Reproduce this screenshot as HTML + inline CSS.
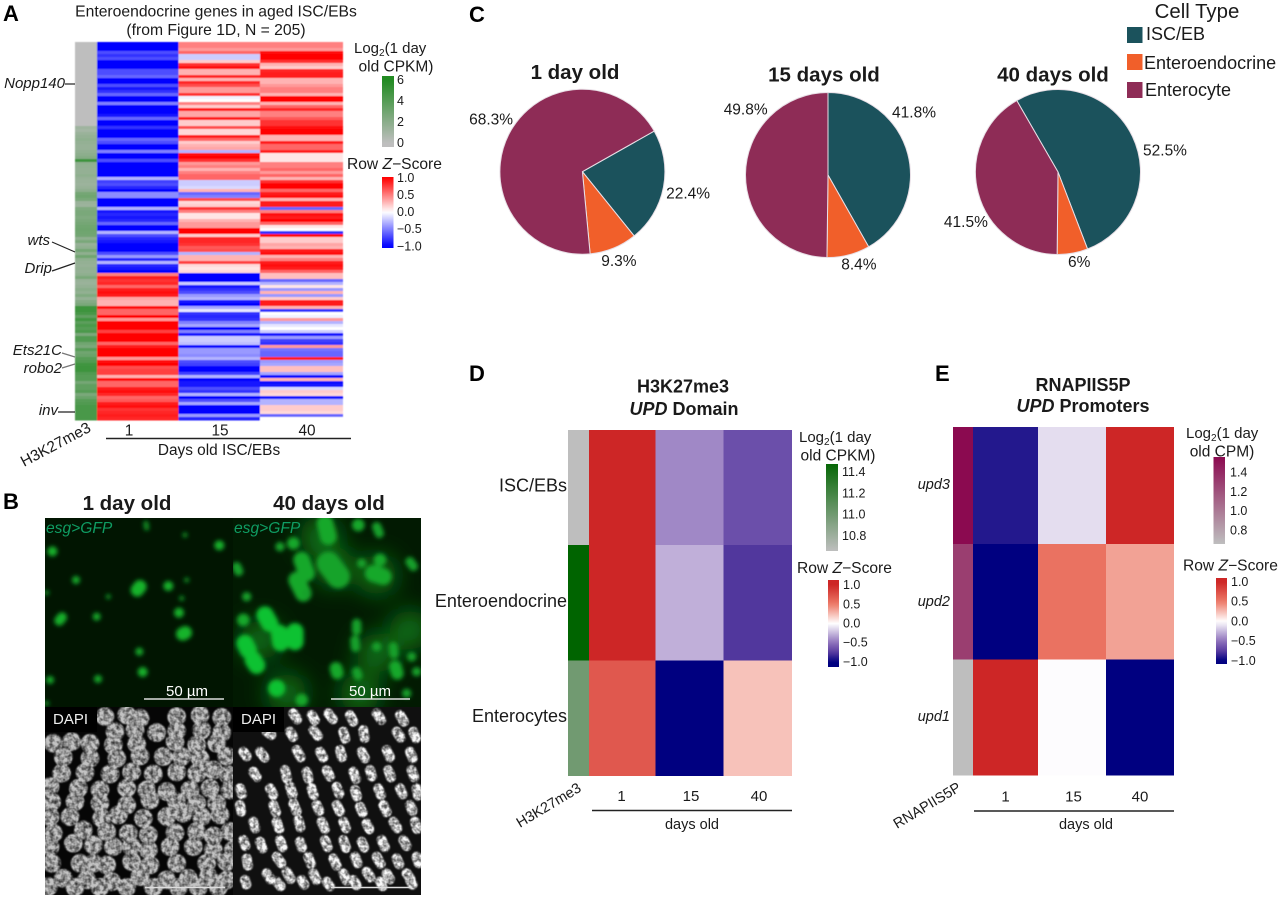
<!DOCTYPE html>
<html lang="en">
<head>
<meta charset="utf-8">
<title>Enteroendocrine genes figure</title>
<style>
html,body{margin:0;padding:0;background:#fff;width:1280px;height:897px;overflow:hidden;}
svg{display:block;font-family:"Liberation Sans",sans-serif;fill:#1a1a1a;}
.pl{font-size:22px;font-weight:700;fill:#000;}
.i{font-style:italic;}
.b{font-weight:700;}
</style>
</head>
<body>
<svg id="fig" xmlns="http://www.w3.org/2000/svg" width="1280" height="897" viewBox="0 0 1280 897">
<defs>
<filter id="b1" filterUnits="userSpaceOnUse" x="0" y="0" width="1400" height="800"><feGaussianBlur stdDeviation="6"/></filter>
<filter id="b2" filterUnits="userSpaceOnUse" x="0" y="-200" width="1600" height="1200"><feGaussianBlur stdDeviation="36"/></filter>
<filter id="b3" x="-2%" y="-2%" width="104%" height="104%"><feGaussianBlur stdDeviation="0.55"/></filter>
<filter id="mottle" filterUnits="userSpaceOnUse" x="45" y="707" width="376" height="188" color-interpolation-filters="sRGB">
<feGaussianBlur in="SourceGraphic" stdDeviation="0.7" result="s"/>
<feTurbulence type="fractalNoise" baseFrequency=".24" numOctaves="2" seed="3" result="n"/>
<feColorMatrix in="n" type="matrix" values="1.8 0 0 0 -.2 1.8 0 0 0 -.2 1.8 0 0 0 -.2 0 0 0 0 1" result="g"/>
<feComposite in="s" in2="g" operator="arithmetic" k1="1.25" k2=".3" k3="0" k4="0"/>
</filter>
<clipPath id="cg1"><rect x="45" y="518" width="188" height="189"/></clipPath>
<clipPath id="cg2"><rect x="233" y="518" width="188" height="189"/></clipPath>
<clipPath id="cd1"><rect x="45" y="707" width="188" height="188"/></clipPath>
<clipPath id="cd2"><rect x="233" y="707" width="188" height="188"/></clipPath>
</defs>

<text class="pl" x="3" y="21">A</text>
<text class="pl" x="3" y="509">B</text>
<text class="pl" x="469" y="22">C</text>
<text class="pl" x="469" y="381">D</text>
<text class="pl" x="935" y="381">E</text>

<!-- Panel A text -->
<text x="216" y="16.5" text-anchor="middle" font-size="15.7">Enteroendocrine genes in aged ISC/EBs</text>
<text x="216" y="35" text-anchor="middle" font-size="15.7">(from Figure 1D, N = 205)</text>
<g id="heatA"></g>
<g font-size="15" class="i" text-anchor="end">
<text x="65" y="88">Nopp140</text>
<text x="50" y="245">wts</text>
<text x="52" y="273">Drip</text>
<text x="62" y="355">Ets21C</text>
<text x="62" y="373">robo2</text>
<text x="58" y="415">inv</text>
</g>
<g stroke="#222" stroke-width="1.2" fill="none">
<path d="M65 84H75"/>
<path d="M52 242L75 252"/>
<path d="M52 271L75 263"/>
<path d="M62 353L75 357" stroke="#777"/>
<path d="M62 368L75 364" stroke="#777"/>
<path d="M58 412H75"/>
<path d="M106 438.5H351" stroke-width="1.4"/>
<path d="M592 810.5H792" stroke-width="1.4"/>
<path d="M974 811H1174" stroke-width="1.4"/>
</g>
<text x="219" y="455" text-anchor="middle" font-size="15.4">Days old ISC/EBs</text>
<text transform="translate(24 467) rotate(-28)" font-size="15.4">H3K27me3</text>
<text x="354" y="53" font-size="15">Log<tspan font-size="10" dy="3">2</tspan><tspan dy="-3">(1 day</tspan></text>
<text x="396" y="71.5" text-anchor="middle" font-size="15.5">old CPKM)</text>
<text x="347" y="169" font-size="15.6">Row <tspan class="i">Z</tspan>−Score</text>

<!-- Panel B micrographs -->
<text x="127" y="510" text-anchor="middle" font-size="20.5" class="b">1 day old</text>
<text x="329" y="510" text-anchor="middle" font-size="20.5" class="b">40 days old</text>

<g clip-path="url(#cg1)">
<rect x="45" y="518" width="188" height="189" fill="#011501"/>
<g transform="translate(0 480) scale(.3333)" fill="none" stroke-linecap="round" filter="url(#b1)">
<path stroke="#12b42c" stroke-width="40" d="M412 330l8 -10M548 462l8 -4"/>
<path stroke="#14b02c" stroke-width="30" d="M157 214h.1M505 318h.1M178 422l8 -10M428 576h.1M658 196h.1M537 398h.1"/>
<path stroke="#12a829" stroke-width="24" d="M228 300h.1M290 410h.1M418 515h.1M294 597h.1M150 600h.1"/>
<path stroke="#0f8a22" stroke-width="16" d="M438 130l2 14M140 338h.1M325 350h.1M560 300h.1M545 355h.1M140 670h.1M555 165h.1"/>
</g>
</g>
<g clip-path="url(#cg2)">
<rect x="233" y="518" width="188" height="189" fill="#021a02"/>
<g transform="translate(0 480) scale(.3333)" fill="none" stroke-linecap="round">
<path filter="url(#b2)" stroke="#0d7018" stroke-width="120" d="M1000 260h.1M1130 285h.1M780 480h.1M1130 520h.1M1230 450h.1M960 170h.1M860 640h.1M1080 640h.1"/>
<g filter="url(#b1)">
<path stroke="#12a32a" stroke-width="70" d="M985 250l30 40"/>
<path stroke="#14a82c" stroke-width="50" d="M975 130l10 40M905 240l15 40M890 300l20 40M1120 280l30 10"/>
<path stroke="#10c232" stroke-width="52" d="M795 405l14 25M735 490l10 20M760 540l10 16M838 460l4 28M885 455l0 30M830 625h.1"/>
<path stroke="#12a82c" stroke-width="38" d="M1075 135h.1M1140 240h.1M730 420h.1M905 660h.1M1008 565l4 14M1186 560l6 20M880 190h.1"/>
<path stroke="#12a02a" stroke-width="28" d="M1130 140l8 20M1085 250h.1M1230 245l10 14M710 260l6 14M740 350h.1M1070 575l4 12M1065 480l2 22M1180 500l2 22M1220 640h.1M1235 530h.1M840 200h.1M920 340h.1M1070 430l0 22M1250 575h.1M1130 500h.1"/>
</g>
</g>
</g>
<g clip-path="url(#cd1)">
<rect x="45" y="707" width="188" height="188" fill="#060606"/>
<g filter="url(#mottle)">
<g transform="translate(0 480) scale(.3333)" fill="none" stroke-linecap="round" stroke="#7e7e7e" stroke-width="56">
<path d="M315 710h.1M380 705h.1M420 715h.1M530 710h.1M600 705h.1M665 712h.1M345 755h.1M405 750h.1M470 758h.1M530 752h.1M605 750h.1M665 758h.1M160 790h.1M215 785h.1M270 790h.1M340 795h.1M410 792h.1M525 785h.1M590 795h.1M650 790h.1M190 832h.1M270 835h.1M350 835h.1M420 828h.1M490 830h.1M545 830h.1M600 835h.1M680 828h.1M185 880h.1M255 878h.1M330 882h.1M395 876h.1M460 882h.1M530 876h.1M590 880h.1M640 870h.1M685 885h.1M150 920h.1M235 925h.1M300 930h.1M380 925h.1M440 930h.1M500 935h.1M570 930h.1M630 925h.1M690 930h.1M155 965h.1M225 965h.1M300 970h.1M380 975h.1M450 960h.1M530 965h.1M590 970h.1M650 970h.1M150 1010h.1M210 1010h.1M305 1015h.1M355 1005h.1M430 1015h.1M500 1010h.1M550 1000h.1M605 1010h.1M660 1005h.1M160 1060h.1M250 1050h.1M320 1055h.1M385 1060h.1M445 1065h.1M525 1058h.1M590 1055h.1M640 1068h.1M690 1055h.1M150 1100h.1M220 1090h.1M280 1095h.1M340 1100h.1M395 1100h.1M445 1110h.1M510 1100h.1M580 1100h.1M640 1110h.1M700 1110h.1M155 1150h.1M240 1150h.1M280 1150h.1M320 1155h.1M395 1145h.1M450 1155h.1M530 1150h.1M620 1150h.1M680 1145h.1M190 1195h.1M260 1200h.1M335 1205h.1M420 1190h.1M500 1200h.1M565 1195h.1M625 1190h.1M680 1200h.1M145 1220h.1M225 1222h.1M300 1222h.1M380 1222h.1M460 1222h.1M535 1222h.1M595 1222h.1M655 1222h.1"/>
</g>
</g>
</g>
<g clip-path="url(#cd2)">
<rect x="233" y="707" width="188" height="188" fill="#101010"/>
<g filter="url(#mottle)">
<g transform="translate(0 480) scale(.3333)" fill="none" stroke-linecap="round" stroke="#a0a0a0" stroke-width="30">
<path d="M880 700l12 18M935 705l10 16M985 700l14 18M1050 705l10 20M1130 700l14 20M1200 705l12 20M800 755l14 10M870 755l10 16M940 750l14 18M1030 755l6 22M1090 750l4 24M1190 755l12 18M1240 755l8 20M730 815l10 14M780 815l14 18M890 810l12 22M960 815l10 18M1020 810l6 22M1085 815l10 20M1160 810l10 22M1230 815l8 20M760 875l10 16M855 870l6 26M920 875l6 22M980 870l10 20M1060 875l8 22M1110 870l6 20M1165 870l8 22M1235 870l8 22M720 925l6 18M810 925l10 20M870 920l8 24M935 925l6 20M1010 920l8 22M1065 930l6 20M1135 925l8 20M1200 925l8 18M1250 925l4 22M720 975l4 20M820 975l8 22M880 970l10 24M950 975l8 18M1010 975l10 20M1080 980l8 18M1150 975l10 22M1230 975l8 18M760 1025l6 20M830 1025l8 22M895 1020l6 22M965 1025l10 22M1030 1025l8 20M1100 1030l8 18M1180 1025l12 20M1245 1025l6 22M730 1080l6 18M780 1085l8 20M840 1080l8 22M900 1085l6 18M975 1080l8 22M1030 1080l8 24M1085 1085l8 18M1145 1080l10 22M1210 1080l10 18M740 1135l4 22M830 1130l14 20M925 1130l8 22M1000 1135l10 22M1065 1130l8 20M1130 1130l12 22M1190 1135l8 18M1250 1130l6 20M800 1180l12 18M860 1175l12 22M940 1180l10 20M1030 1180l10 22M1100 1175l12 18M1160 1180l10 18M1220 1180l12 18M735 1200l4 14M830 1205l12 14M905 1200l8 14M980 1205l10 14M1060 1200l10 16M1140 1205l8 14M1230 1200l8 14"/>
</g>
</g>
</g>
<rect x="45" y="707" width="52" height="25" fill="#000"/>
<rect x="233" y="707" width="51" height="25" fill="#000"/>
<text x="46" y="533" font-size="15.6" class="i" style="fill:#0f9d63">esg&gt;GFP</text>
<text x="234" y="533" font-size="15.6" class="i" style="fill:#0f9d63">esg&gt;GFP</text>
<text x="53" y="724" font-size="15" style="fill:#eee">DAPI</text>
<text x="241" y="724" font-size="15" style="fill:#eee">DAPI</text>
<text x="187" y="696" text-anchor="middle" font-size="15" style="fill:#fff">50 µm</text>
<text x="370" y="696" text-anchor="middle" font-size="15" style="fill:#fff">50 µm</text>
<g stroke-width="1.6" fill="none">
<path d="M144 699H224" stroke="#ddd"/>
<path d="M331 699H410" stroke="#ddd"/>
<path d="M145 887.5H225" stroke="#ddd"/>
<path d="M331 887.5H410" stroke="#ddd"/>
</g>

<!-- Panel C -->
<g id="pies"></g>
<text x="1197" y="18" text-anchor="middle" font-size="20.4">Cell Type</text>
<g>
<rect x="1127" y="27" width="15.5" height="16" fill="#1b525c"/>
<text x="1146" y="40" font-size="18">ISC/EB</text>
</g>
<g>
<rect x="1127" y="54" width="15.5" height="16" fill="#f15f2a"/>
<text x="1144" y="69" font-size="18">Enteroendocrine</text>
</g>
<g>
<rect x="1127" y="82" width="15.5" height="16" fill="#8e2c56"/>
<text x="1145" y="96" font-size="18">Enterocyte</text>
</g>
<text x="575" y="79" text-anchor="middle" font-size="20.5" class="b">1 day old</text>
<text x="824" y="81.5" text-anchor="middle" font-size="20.5" class="b">15 days old</text>
<text x="1053" y="81.5" text-anchor="middle" font-size="20.5" class="b">40 days old</text>

<!-- Panel D text -->
<text x="683" y="392.5" text-anchor="middle" font-size="18" class="b">H3K27me3</text>
<text x="684" y="415" text-anchor="middle" font-size="18" class="b"><tspan class="i">UPD</tspan> Domain</text>
<g id="heatD"></g>
<g font-size="18" text-anchor="end">
<text x="567" y="491.5">ISC/EBs</text>
<text x="567" y="607">Enteroendocrine</text>
<text x="567" y="722">Enterocytes</text>
</g>
<text x="692" y="829" text-anchor="middle" font-size="14.5">days old</text>
<text transform="translate(520 828) rotate(-31)" font-size="14.5">H3K27me3</text>
<text x="799" y="442" font-size="15">Log<tspan font-size="10" dy="3">2</tspan><tspan dy="-3">(1 day</tspan></text>
<text x="838" y="460.5" text-anchor="middle" font-size="15.5">old CPKM)</text>
<text x="797" y="573" font-size="15.6">Row <tspan class="i">Z</tspan>−Score</text>

<!-- Panel E text -->
<text x="1083" y="391" text-anchor="middle" font-size="18" class="b">RNAPIIS5P</text>
<text x="1083" y="412" text-anchor="middle" font-size="18" class="b"><tspan class="i">UPD</tspan> Promoters</text>
<g id="heatE"></g>
<g font-size="14.5" class="i" text-anchor="end">
<text x="950" y="489">upd3</text>
<text x="950" y="606">upd2</text>
<text x="950" y="721">upd1</text>
</g>
<text x="1086" y="829" text-anchor="middle" font-size="14.5">days old</text>
<text transform="translate(897 829) rotate(-31)" font-size="14.5">RNAPIIS5P</text>
<text x="1186" y="438" font-size="15">Log<tspan font-size="10" dy="3">2</tspan><tspan dy="-3">(1 day</tspan></text>
<text x="1222" y="456.5" text-anchor="middle" font-size="15.5">old CPM)</text>
<text x="1183" y="570.5" font-size="15.6">Row <tspan class="i">Z</tspan>−Score</text>
<g id="bars"></g>
</svg>

<script>
// ---- Panel A data: row Z-scores per age (top to bottom) ----
const panelADay1 = [-1,-1,-1,-.7,-.8,-.7,-1,-1,-1,-.7,-.7,-.6,-1,-1,-.7,-.9,-.8,-.6,-1,-1,-.5,-1,-1,-1,-.9,-.6,-1,-1,-.8,-1,-1,-1,-.6,
-.7,-1,-1,-.5,-1,-1,-.7,-1,-1,-1,-1,-1,-.3,-.75,-.7,-.85,-1,-.45,-.45,-1,-1,-1,-.3,-.9,-.85,-.9,-.85,-.6,-1,-1,-.3,
-.7,-.85,-.9,-1,-1,-1,-.7,-.4,-.85,-.3,-.85,-.9,-1,
.5,.9,.8,.85,.6,.9,.95,.9,.35,.3,.3,.95,.6,.6,1,.4,1,1,
1,.75,1,1,1,.6,.9,1,1,1,.4,.95,1,.7,.75,.75,.3,.95,.6,.6,.9,.95,.85,.6,.65,.9,.95,.8,.85,.9,.85];
const panelADay15 = [.5,.5,.4,.6,-.2,-.2,.2,.8,.95,.3,.3,.85,.3,.85,.7,.4,.4,.8,-.05,0,.5,.2,.9,.35,.35,.9,.2,.2,.7,.15,.15,.9,.6,
.2,.3,.35,-.3,.95,1,.8,.4,.5,.3,.5,.6,.6,-.2,-.2,-.15,.3,-.6,-.5,.7,.15,.2,.8,.5,.1,.1,.3,.4,.4,1,1,
.2,.85,.85,.8,.65,.7,-.3,.3,.3,.75,.15,.1,.15,
-1,-1,-1,-.2,-.9,-.8,-.7,-.4,-.3,-.9,-1,-.35,-.1,-.8,-.85,-.8,-.5,-.35,
-1,-.5,-.9,-.2,-.2,-.25,-.95,-.4,-.4,-.45,-.3,-.7,-.75,-1,-1,-.75,-.3,-1,-.9,-.9,-.7,-.8,-.3,-1,-.7,-.35,-1,-1,-1,-.4,-.85];
const panelADay40 = [.5,.5,.4,.95,1,1,.8,.3,.2,.85,.9,.9,.3,.3,.4,.5,.5,.3,1,1,.3,.6,.85,.5,.5,.65,.8,.8,.95,1,1,.3,.3,
.9,.6,.6,.9,.1,.1,.1,.5,.5,.6,.4,.6,.3,.8,1,1,.6,.9,.95,.3,.9,.9,-.6,.5,.95,.9,1,.6,.1,0,-.8,
.95,.2,.2,.35,.3,.9,.95,.3,.5,.9,.95,.9,.6,
.25,.25,-.6,-.3,.1,-.4,.3,-.4,.2,.9,.9,.3,-.8,0,-.05,.4,-.3,-.1,
0,-.2,-.9,-.4,-.75,-.8,.4,-.55,-.6,-.6,.9,-.4,-.35,.25,.25,-.35,-.95,.3,-.95,-.9,-.15,.2,.15,-.9,-.3,-.3,.2,.2,.15,-.6,0];
const panelAAnnotation = [0,0,0,0,0,0,0,0,0,0,0,0,0,0,0,0,0,0,0,0,0,0,0,0,0,0,0,0,
1.2,1,1.4,1.6,1.8,1.6,1.5,1.5,1.7,1.9,2.2,5,
1.8,1.7,1.6,1.6,1.8,1.5,1.4,1.3,1.5,1.9,
2.8,3,2.6,1.4,1.3,2.4,2.6,2.6,2.4,2.6,
2.8,3,3.1,3,2.9,1.8,2.6,1.5,1.8,2.8,
1.8,3,1.8,1.6,1.5,1.7,1.6,1.8,2.6,1.5,
1.4,1.6,2,1.7,2.4,1.6,2.2,2.6,
5,5,4.6,3.6,4.8,3.8,4.4,4,4.4,2.6,
4.2,4.2,3,2.6,4,3,3.2,4,4.2,4.8,
5,5,4.2,4,4,2.8,3.6,3.6,4,2.6,
3.2,4,4.2,4.5,4.5,4.5,4.5,4.5];
const ageLabels = ['1','15','40'];

// ---- Panel D / E data ----
const panelDRows = [[1,-.42,-.66],[1,-.28,-.77],[.7,-1,.23]];
const panelDAnnotation = [10.66,11.5,11.0];
const panelERows = [[-.9,-.12,1],[-1,.55,.35],[1,-.01,-1]];
const panelEAnnotation = [1.56,1.3,.66];

// ---- Panel C data (percent: ISC/EB, Enteroendocrine, Enterocyte) ----
const pie1Day = [22.4,9.3,68.3];
const pie15Days = [41.8,8.4,49.8];
const pie40Days = [52.5,6,41.5];
const pieColors = ['#1b525c','#f15f2a','#8e2c56'];
const pieCellTypes = ['isc-eb','enteroendocrine','enterocyte'];

// ---- Legend ticks ----
const zTicks = [-1,-.5,0,.5,1];
const zTickLabels = ['−1.0','−0.5','0.0','0.5','1.0'];
const panelAExprTicks = [0,2,4,6];
const panelAExprLabels = ['0','2','4','6'];
const panelDExprTicks = [10.8,11,11.2,11.4];
const panelDExprLabels = ['10.8','11.0','11.2','11.4'];
const panelEExprTicks = [.8,1,1.2,1.4];
const panelEExprLabels = ['0.8','1.0','1.2','1.4'];

const NS = 'http://www.w3.org/2000/svg';
function hex(c){return [parseInt(c.slice(1,3),16),parseInt(c.slice(3,5),16),parseInt(c.slice(5,7),16)];}
function ramp(stops){
  return function(v){
    if(v<=stops[0][0]) return stops[0][1];
    for(let i=1;i<stops.length;i++){
      if(v<=stops[i][0]){
        const t=(v-stops[i-1][0])/(stops[i][0]-stops[i-1][0]);
        const a=hex(stops[i-1][1]),b=hex(stops[i][1]);
        return 'rgb('+a.map((x,k)=>Math.round(x+(b[k]-x)*t)).join(',')+')';
      }
    }
    return stops[stops.length-1][1];
  };
}
const colorZA = ramp([[-1,'#0000ff'],[0,'#ffffff'],[1,'#ff0000']]);
const colorZB = ramp([[-1,'#000080'],[-.75,'#583ca0'],[-.5,'#8e71bb'],[0,'#ffffff'],[.5,'#ed7a68'],[1,'#cd2626']]);
const colorExprA = ramp([[0,'#bebebe'],[6,'#228b22']]);
const colorExprD = ramp([[10.66,'#bebebe'],[11.5,'#006400']]);
const colorExprE = ramp([[.66,'#bebebe'],[1.56,'#8b0a50']]);

function rect(parent,x,y,w,h,fill,name){
  const el=document.createElementNS(NS,'rect');
  el.setAttribute('x',x);el.setAttribute('y',y);el.setAttribute('width',w);el.setAttribute('height',h);
  el.setAttribute('fill',fill);el.setAttribute('shape-rendering','crispEdges');
  
  
  parent.appendChild(el);
  return el;
}
function label(parent,x,y,str,size,name,anchor){
  const el=document.createElementNS(NS,'text');
  el.setAttribute('x',x);el.setAttribute('y',y);el.setAttribute('font-size',size);
  el.setAttribute('text-anchor',anchor||'start');
  el.setAttribute('dominant-baseline','central');
  el.textContent=str;
  
  
  parent.appendChild(el);
  return el;
}
// axis functions
function bandScale(start,end,n){const s=(end-start)/n;return {at:i=>start+i*s,step:s};}
function linScale(d0,d1,r0,r1){return v=>r0+(v-d0)/(d1-d0)*(r1-r0);}

// ---- Panel A heatmap ----
(function(){
  const g=document.getElementById('heatA');
  const cells=document.createElementNS(NS,'g');
  cells.setAttribute('filter','url(#b3)');
  
  
  g.appendChild(cells);
  const yA=bandScale(42,420,panelADay1.length);
  const xEdges=[97,178.5,260,343];
  const cols=[panelADay1,panelADay15,panelADay40];
  panelAAnnotation.forEach((v,i)=>rect(cells,75,yA.at(i),22,yA.step+.4,colorExprA(v),'annotation-cell-a'));
  cols.forEach((col,c)=>col.forEach((v,i)=>rect(cells,xEdges[c],yA.at(i),xEdges[c+1]-xEdges[c],yA.step+.4,colorZA(v),'heatmap-cell-day-'+ageLabels[c])));
  const xc=[129,220,307];
  ageLabels.forEach((t,i)=>label(g,xc[i],431,t,15.4,'panel-a-x-tick-'+t,'middle'));
})();

// ---- Panels D and E ----
function smallHeat(id,ann,rows,annColor,xs,ys,xc,tickY,prefix){
  const g=document.getElementById(id);
  rows.forEach((row,r)=>{
    rect(g,xs[0],ys[r],xs[1]-xs[0],ys[r+1]-ys[r],annColor(ann[r]),prefix+'-annotation-cell');
    row.forEach((v,c)=>rect(g,xs[c+1],ys[r],xs[c+2]-xs[c+1],ys[r+1]-ys[r],colorZB(v),prefix+'-heatmap-cell'));
  });
  ageLabels.forEach((t,i)=>label(g,xc[i],tickY,t,15,prefix+'-x-tick-'+t,'middle'));
}
smallHeat('heatD',panelDAnnotation,panelDRows,colorExprD,[568,589,655.5,723.5,792],[430,545,660.5,776],[621.5,691,759],796.5,'panel-d');
smallHeat('heatE',panelEAnnotation,panelERows,colorExprE,[953,973,1038,1106,1174],[427,544,659.5,775.5],[1005.5,1073.5,1140],797,'panel-e');

// ---- Panel C pies ----
(function(){
  const g=document.getElementById('pies');
  const series=[pie1Day,pie15Days,pie40Days];
  const names=['1-day','15-days','40-days'];
  const centers=[[582.4,171.7,60.5],[828,175,0],[1058,172,-30]];
  const labelTwist=[[1,0,2],[-21,-4.6,38],[14.5,-3,-14]];
  const labelDist=[[108,97,105],[106,95,105],[109,93,105]];
  const R=82.5;
  const rad=d=>d*Math.PI/180;
  series.forEach((vals,p)=>{
    const [cx,cy,rot]=centers[p];
    const total=vals.reduce((a,b)=>a+b,0);
    let a=rot;
    vals.forEach((v,k)=>{
      const sweep=v/total*360;
      const b=a+sweep;
      const x0=cx+R*Math.sin(rad(a)),y0=cy-R*Math.cos(rad(a));
      const x1=cx+R*Math.sin(rad(b)),y1=cy-R*Math.cos(rad(b));
      const el=document.createElementNS(NS,'path');
      el.setAttribute('d','M'+cx+' '+cy+'L'+x0+' '+y0+'A'+R+' '+R+' 0 '+(sweep>180?1:0)+' 1 '+x1+' '+y1+'Z');
      el.setAttribute('fill',pieColors[k]);
      el.setAttribute('stroke','#e8dfe6');
      el.setAttribute('stroke-width','1');
      
      
      g.appendChild(el);
      const mid=(a+b)/2+labelTwist[p][k];
      const d=labelDist[p][k];
      label(g,cx+d*Math.sin(rad(mid)),cy-d*Math.cos(rad(mid)),v+'%',15.5,'pie-label-'+names[p]+'-'+pieCellTypes[k],'middle');
      a=b;
    });
  });
})();

// ---- Colour bars ----
function colorbar(id,x,w,top,bottom,vTop,vBottom,color,ticks,tickLabels,labelX,size){
  const root=document.getElementById('bars');
  const svg=document.getElementById('fig');
  const grad=document.createElementNS(NS,'linearGradient');
  grad.setAttribute('id',id);grad.setAttribute('x1','0');grad.setAttribute('y1','0');grad.setAttribute('x2','0');grad.setAttribute('y2','1');
  for(let i=0;i<=20;i++){
    const s=document.createElementNS(NS,'stop');
    s.setAttribute('offset',i/20);
    s.setAttribute('stop-color',color(vTop+(vBottom-vTop)*i/20));
    grad.appendChild(s);
  }
  svg.querySelector('defs').appendChild(grad);
  const y=linScale(vTop,vBottom,top,bottom);
  const bar=document.createElementNS(NS,'rect');
  bar.setAttribute('x',x);bar.setAttribute('y',top);bar.setAttribute('width',w);bar.setAttribute('height',bottom-top);
  bar.setAttribute('fill','url(#'+id+')');
  
  
  root.appendChild(bar);
  ticks.forEach((t,i)=>label(root,labelX,y(t),tickLabels[i],size,id+'-tick-'+tickLabels[i]));
}
colorbar('panel-a-expression-colorbar',382,12,76,147,6.4,-.4,colorExprA,panelAExprTicks,panelAExprLabels,397,12.5);
colorbar('panel-a-zscore-colorbar',382,11.5,177,248,1.03,-1.05,colorZA,zTicks,zTickLabels,397,12.5);
colorbar('panel-d-expression-colorbar',826,12,464,551,11.475,10.66,colorExprD,panelDExprTicks,panelDExprLabels,842,12.5);
colorbar('panel-d-zscore-colorbar',828,11,580,667,1.13,-1.13,colorZB,zTicks,zTickLabels,843,12.5);
colorbar('panel-e-expression-colorbar',1213.5,11.5,457,544,1.56,.66,colorExprE,panelEExprTicks,panelEExprLabels,1230,12.5);
colorbar('panel-e-zscore-colorbar',1216,11,578,664,1.1,-1.08,colorZB,zTicks,zTickLabels,1231,12.5);
</script>
</body>
</html>
